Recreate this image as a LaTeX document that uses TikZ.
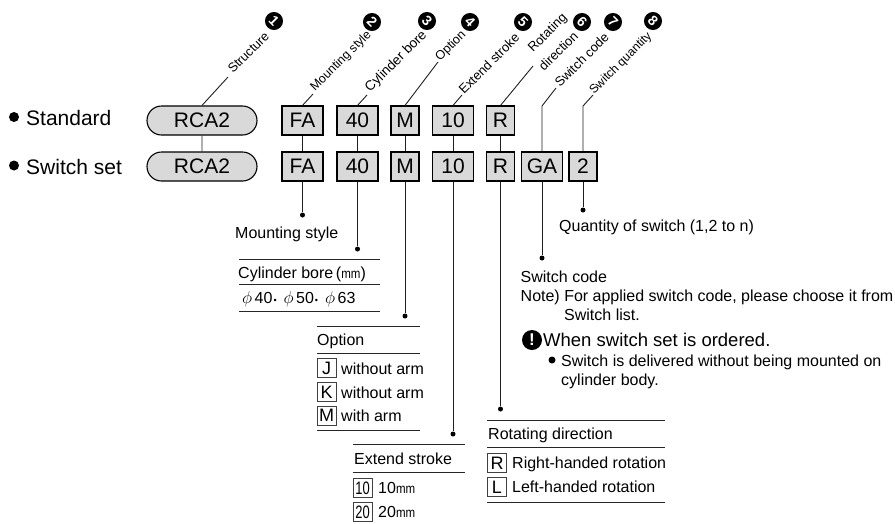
\documentclass[tikz,border=0pt]{standalone}
\usepackage{fontspec}
\usepackage{graphicx}
\setmainfont{Liberation Sans}
\usetikzlibrary{shapes.misc}
\newcommand\smm{\scalebox{.72}[.85]{mm}}
\newcommand\cond[1]{\scalebox{.72}[1]{#1}}
\newcommand\phidot{\hspace{1pt}{\fontsize{9}{9}\selectfont •}\hspace{7pt}}
\tikzset{
  x=1pt,y=-1pt,
  conn/.style={draw=black!88,line width=.9pt},
  rulel/.style={draw=black!85,line width=.9pt},
  pill/.style={rounded rectangle,draw=black,line width=1.1pt,fill=black!15,minimum width=110pt,minimum height=29pt,inner sep=0pt,font=\fontsize{21}{21}\selectfont},
  codebox/.style={rectangle,draw=black,line width=1.1pt,fill=black!15,minimum height=29pt,inner sep=0pt,font=\fontsize{21}{21}\selectfont},
  numc/.style={circle,fill=black,text=white,minimum size=18pt,inner sep=0pt,rotate=-45,font=\bfseries\fontsize{14}{14}\selectfont},
  tinydot/.style={circle,fill=black,minimum size=5pt,inner sep=0pt},
  bigdot/.style={circle,fill=black,minimum size=10pt,inner sep=0pt},
  lead/.style={anchor=base west,rotate=45,inner sep=0pt},
  txt/.style={anchor=base west,inner sep=0pt,yshift=-5.7pt,font=\fontsize{16}{19}\selectfont},
  bigtxt/.style={anchor=base west,inner sep=0pt,yshift=-7.5pt,font=\fontsize{21}{21}\selectfont},
  keybox/.style={rectangle,draw=black!75,line width=.8pt,minimum width=19pt,minimum height=19pt,inner sep=0pt,font=\fontsize{18}{18}\selectfont},
}
\begin{document}
\begin{tikzpicture}
\useasboundingbox (0,0) rectangle (895,523);
% left labels
\node[bigdot] (bstd) at (14,117) {};
\node[bigdot] (bset) at (14,165.5) {};
\node[bigtxt] (lstd) at (26,117.5) {Standard};
\node[bigtxt] (lset) at (26,166.5) {Switch set};
% code row 1
\node[pill] (rca1) at (202,120.5) {RCA2};
\node[codebox,minimum width=41pt] (fa1) at (302.5,120.5) {FA};
\node[codebox,minimum width=41pt] (b1) at (357.5,120.5) {40};
\node[codebox,minimum width=28pt] (m1) at (405,120.5) {M};
\node[codebox,minimum width=41pt] (s1) at (453,120.5) {10};
\node[codebox,minimum width=28pt] (r1) at (500.5,120.5) {R};
% code row 2
\node[pill] (rca2) at (202,166.5) {RCA2};
\node[codebox,minimum width=41pt] (fa2) at (302.5,166.5) {FA};
\node[codebox,minimum width=41pt] (b2) at (357.5,166.5) {40};
\node[codebox,minimum width=28pt] (m2) at (405,166.5) {M};
\node[codebox,minimum width=41pt] (s2) at (453,166.5) {10};
\node[codebox,minimum width=28pt] (r2) at (500.5,166.5) {R};
\node[codebox,minimum width=41pt] (ga2) at (542,166.5) {GA};
\node[codebox,minimum width=28pt] (q2) at (583,166.5) {2};
% between rows
\foreach \a/\b in {rca1/rca2,fa1/fa2,b1/b2,m1/m2,s1/s2,r1/r2} \draw[conn] (\a) -- (\b);
% leaders
\coordinate (e1) at (228,77);
\coordinate (e2) at (313,94);
\coordinate (e3) at (367,95);
\coordinate (e4) at (438,62);
\coordinate (e5) at (462,95);
\coordinate (e6) at (533,66);
\coordinate (k7) at (542,106);
\coordinate (e7) at (556,88);
\coordinate (k8) at (583,106);
\coordinate (e8) at (593,95);
\draw[conn] (rca1.north) -- (e1);
\draw[conn] (fa1.north) -- (e2);
\draw[conn] (b1.north) -- (e3);
\draw[conn] (m1.north) -- (e4);
\draw[conn] (s1.north) -- (e5);
\draw[conn] (r1.north) -- (e6);
\draw[conn] (ga2.north) -- (k7) -- (e7);
\draw[conn] (q2.north) -- (k8) -- (e8);
% rotated labels
\node[lead,font=\fontsize{12.8}{14}\selectfont] (l1) at (233,74) {Structure};
\node[lead,font=\fontsize{12.4}{14}\selectfont] (l2) at (315,92) {Mounting style};
\node[lead,font=\fontsize{13.6}{14}\selectfont] (l3) at (370,93) {Cylinder bore};
\node[lead,font=\fontsize{12.6}{14}\selectfont] (l4) at (440,62) {Option};
\node[lead,font=\fontsize{13}{14}\selectfont] (l5) at (464,95) {Extend stroke};
\node[lead,font=\fontsize{13}{14}\selectfont] (l6a) at (533,53) {Rotating};
\node[lead,font=\fontsize{13}{14}\selectfont] (l6b) at (544,72) {direction};
\node[lead,font=\fontsize{13}{14}\selectfont] (l7) at (560,88) {Switch code};
\node[lead,font=\fontsize{12.2}{14}\selectfont] (l8) at (594,95) {Switch quantity};
% numbers
\node[numc] (n1) at (274,21) {1};
\node[numc] (n2) at (372,22) {2};
\node[numc] (n3) at (427,21) {3};
\node[numc] (n4) at (470,22) {4};
\node[numc] (n5) at (523,22) {5};
\node[numc] (n6) at (582,22) {6};
\node[numc] (n7) at (613,22) {7};
\node[numc] (n8) at (653,21) {8};
% drops
\node[tinydot] (d2) at (302.5,215) {};
\node[tinydot] (d3) at (357.5,249) {};
\node[tinydot] (d4) at (405,316) {};
\node[tinydot] (d5) at (453,434) {};
\node[tinydot] (d6) at (500.5,409) {};
\node[tinydot] (d7) at (542,258) {};
\node[tinydot] (d8) at (583,210) {};
\draw[conn] (fa2) -- (d2);
\draw[conn] (b2) -- (d3);
\draw[conn] (m2) -- (d4);
\draw[conn] (s2) -- (d5);
\draw[conn] (r2) -- (d6);
\draw[conn] (ga2) -- (d7);
\draw[conn] (q2) -- (d8);
% mounting style
\node[txt] (tms) at (235,233) {Mounting style};
% cylinder bore
\draw[rulel] (239,259) -- (380,259) (239,284) -- (380,284) (239,311) -- (380,311);
\node[txt] (tcb) at (238,273) {Cylinder bore\,(\smm)};
\node[txt] (tcv) at (242,298) {$\phi$\hspace{2.5pt}40\phidot$\phi$\hspace{2.5pt}50\phidot$\phi$\hspace{2.5pt}63};
% option
\draw[rulel] (317,326) -- (420,326) (317,353) -- (420,353) (317,430) -- (420,430);
\node[txt] (top) at (317,340) {Option};
\node[keybox] (kj) at (326.5,368) {J};
\node[keybox] (kk) at (326.5,392) {K};
\node[keybox] (km) at (326.5,415.5) {M};
\node[txt] (tj) at (341,368.5) {without arm};
\node[txt] (tk) at (341,392.5) {without arm};
\node[txt] (tm) at (341,416) {with arm};
% extend stroke
\draw[rulel] (353,444) -- (465,444) (353,472) -- (465,472);
\node[txt] (tes) at (354,459) {Extend stroke};
\node[keybox] (k10) at (362.5,488) {\cond{10}};
\node[keybox] (k20) at (362.5,512) {\cond{20}};
\node[txt] (t10) at (378,488) {10\smm};
\node[txt] (t20) at (378,512) {20\smm};
% rotating direction
\draw[rulel] (487,420) -- (665,420) (487,447) -- (665,447) (487,502) -- (665,502);
\node[txt] (trd) at (488,434) {Rotating direction};
\node[keybox] (kr) at (497,463) {R};
\node[keybox] (kl) at (497,487) {L};
\node[txt] (tr) at (512,463) {Right-handed rotation};
\node[txt] (tl) at (512,487) {Left-handed rotation};
% switch code
\node[txt] (tqs) at (559,226) {Quantity of switch (1,2 to n)};
\node[txt] (tsc) at (520.5,277) {Switch code};
\node[txt] (tn1) at (520.5,296) {Note) For applied switch code, please choose it from};
\node[txt] (tn2) at (564,315) {Switch list.};
\node[circle,fill=black,text=white,minimum size=20pt,inner sep=0pt,font=\bfseries\fontsize{17}{17}\selectfont] (warn) at (532,340) {!};
\node[txt,yshift=-1pt,font=\fontsize{18.5}{20}\selectfont] (tw) at (543,340) {When switch set is ordered.};
\node[circle,fill=black,minimum size=7pt,inner sep=0pt] (wb) at (552,360) {};
\node[txt] (tw1) at (561,361) {Switch is delivered without being mounted on};
\node[txt] (tw2) at (561,380) {cylinder body.};
\end{tikzpicture}
\end{document}
